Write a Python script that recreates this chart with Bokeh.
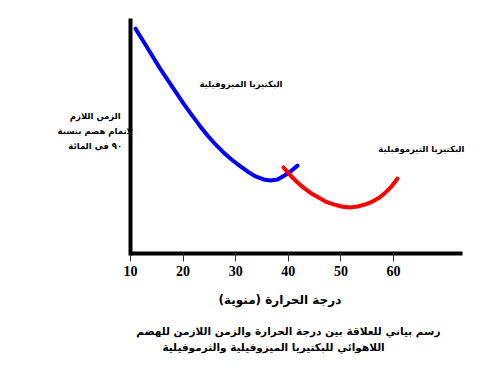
from bokeh.plotting import figure
from bokeh.models import Label, FixedTicker, Range1d, LinearAxis
from bokeh.embed import file_html
from bokeh.resources import INLINE

# Data (temperature in °C, digestion time in arbitrary units)
meso_temp = [10.95, 12.47, 13.99, 15.51, 17.03, 18.56, 20.08, 21.60, 23.12, 24.64, 26.16,
             27.68, 29.20, 30.72, 32.24, 33.76, 35.29, 36.62, 37.95, 39.28, 40.42, 41.75]
meso_time = [95.7, 90.2, 84.7, 79.1, 74.0, 68.9, 63.8, 59.1, 54.5, 50.2, 46.4,
             43.0, 40.0, 37.4, 34.9, 32.8, 31.5, 31.1, 31.5, 33.2, 34.9, 37.4]
thermo_temp = [39.09, 40.42, 41.75, 43.08, 44.41, 45.74, 47.07, 48.59, 50.11, 51.63,
               53.16, 54.68, 56.01, 57.34, 58.48, 59.62, 60.76]
thermo_time = [36.6, 33.2, 30.2, 27.7, 25.5, 23.8, 22.1, 20.9, 20.0, 19.6,
               20.0, 20.9, 22.1, 23.8, 26.0, 28.5, 31.9]
x_ticks = [10, 20, 30, 40, 50, 60]
x_axis_bounds = (10, 73.1)
y_axis_bounds = (-0.9, 100)

meso_label = "البكتيريا الميزوفيلية"
thermo_label = "البكتيريا الثيرموفيلية"
y_label_lines = ["الزمن اللازم", "لاتمام هضم بنسبة", "٩٠ في المائة"]
x_title = "درجة الحرارة  (منوية)"
caption_lines = ["رسم بياني للعلاقة بين درجة الحرارة والزمن اللازمن للهضم",
                 "اللاهوائي للبكتيريا الميزوفيلية والثرموفيلية"]

AR_FONT = "DejaVu Sans"

p = figure(width=500, height=374, output_backend="svg", toolbar_location=None,
           x_range=Range1d(-14.71, 80.34), y_range=Range1d(-51.49, 107.66),
           x_axis_location=None, y_axis_location=None, min_border=0)
p.outline_line_color = None
p.grid.visible = False
p.background_fill_color = "white"
p.border_fill_color = "white"

xa = LinearAxis(fixed_location=0, bounds=x_axis_bounds,
                ticker=FixedTicker(ticks=x_ticks),
                axis_line_width=4, axis_line_color="black",
                major_tick_in=0, major_tick_out=8, major_tick_line_width=1,
                major_tick_line_color="#333333", minor_tick_line_color=None,
                major_label_text_font="Liberation Serif",
                major_label_text_font_style="bold",
                major_label_text_font_size="14px",
                major_label_text_color="black", major_label_standoff=5)
p.add_layout(xa, "below")

ya = LinearAxis(fixed_location=10, bounds=y_axis_bounds,
                ticker=FixedTicker(ticks=[]),
                axis_line_width=4, axis_line_color="black",
                major_tick_line_color=None, minor_tick_line_color=None,
                major_label_text_font_size="0px")
p.add_layout(ya, "left")

p.line(meso_temp, meso_time, line_color="#0000ff", line_width=4,
       line_join="round", line_cap="round")
p.line(thermo_temp, thermo_time, line_color="#ff0000", line_width=4,
       line_join="round", line_cap="round")

def add_label(x, y, text, size="11px", align="center", bold=True):
    p.add_layout(Label(x=x, y=y, text=text, text_font=AR_FONT, text_font_size=size,
                       text_font_style="bold" if bold else "normal",
                       text_align=align, text_baseline="middle", text_color="black"))

add_label(31.0, 72.3, meso_label, "8.5px")
add_label(65.3, 44.3, thermo_label, "8.5px")
for i, line in enumerate(y_label_lines):
    add_label(3.3, 58.3 - i * 6.3, line, "8.5px")
add_label(38.8, -19.6, x_title, "12px")
add_label(40.0, -32.8, caption_lines[0], "10.5px")
add_label(37.2, -40.0, caption_lines[1], "10.5px")

open("out.html", "w").write(file_html(p, INLINE))
